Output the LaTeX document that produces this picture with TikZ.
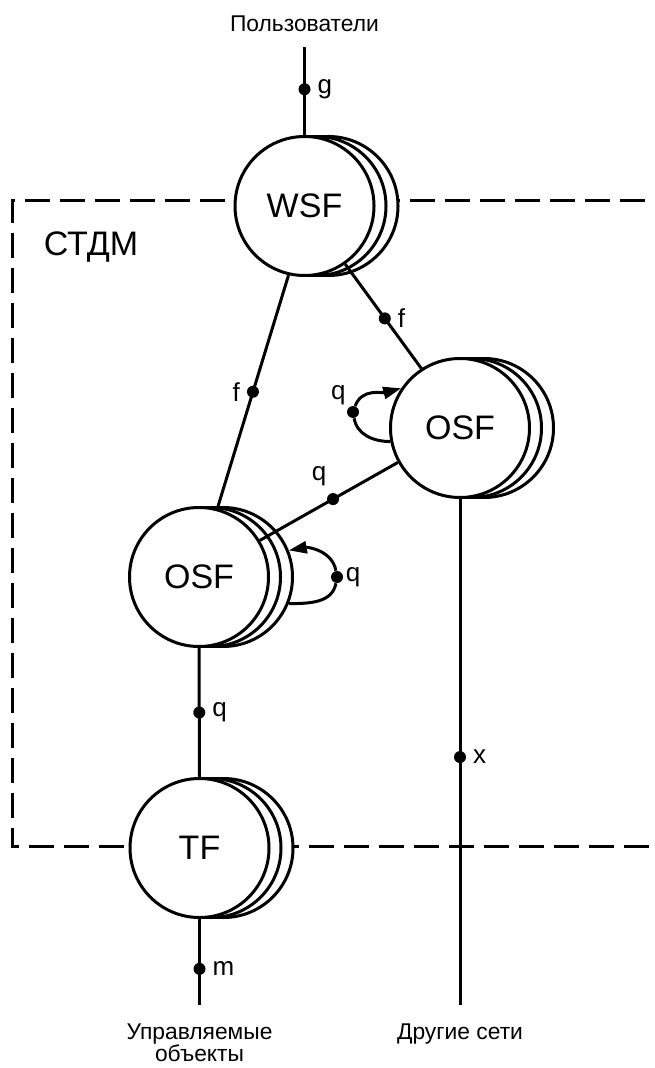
\documentclass[tikz,border=0pt]{standalone}
\usepackage{fontspec}
\setmainfont{Liberation Sans}
\usetikzlibrary{arrows.meta,positioning}

\tikzset{
    fnc/.style={circle, draw, fill=white, line width=1.5pt, minimum size=69.5pt,
        inner sep=0pt, font=\fontsize{17}{20}\selectfont},
    jdot/.style={circle, fill=black, inner sep=0pt, minimum size=6pt},
    lbl/.style={font=\fontsize{11.4}{11}\selectfont},
    link/.style={line width=1.5pt},
    sysbox/.style={line width=1.5pt, dash pattern=on 12.5pt off 5pt},
    tip/.style={-{Triangle[length=9pt, width=6pt]}},
    every label/.style={font=\fontsize{13}{13}\selectfont, inner sep=2pt},
}

\begin{document}
\begin{tikzpicture}[x=0.5pt, y=-0.5pt]
        \useasboundingbox (0,0) rectangle (654,1068);

        % Draw the system frame
        \draw[sysbox] (680,201) -- (12,201) -- (12,846) -- (680,846);
        \node[font=\fontsize{17}{20}\selectfont] (stdm) at (91,247) {СТДМ};

        % Draw the function blocks, two shadow circles behind each
        \foreach \nm/\x/\y/\txt in {wsf/304.5/206/WSF, osfr/460/428/OSF, osfl/199/577/OSF, tf/199.5/848/TF} {
            \node[fnc] (\nm2) at (\x+24,\y) {};
            \node[fnc] (\nm1) at (\x+12,\y) {};
            \node[fnc] (\nm) at (\x,\y) {\txt};
        };

        % Open ends and outside labels
        \coordinate (gtop) at (304.5,47);
        \coordinate (mend) at (199.5,1005);
        \coordinate (xend) at (460,1005);
        \node[lbl, above=4pt of gtop] (users) {Пользователи};
        \node[lbl, below=6pt of mend, align=center] (objs) {Управляемые\\объекты};
        \node[lbl, below=6pt of xend] (nets) {Другие сети};

        % Connectors with reference points
        \draw[link] (gtop) -- node[jdot, pos=0.48, label=right:g] (dg) {} (wsf.north);
        \draw[link] (wsf.257) -- node[jdot, label=left:f] (df1) {} (osfl.75);
        \draw[link] (wsf.305) -- node[jdot, pos=0.52, label=right:f] (df2) {} (osfr.123);
        \draw[link] (osfr.209) -- node[jdot, pos=0.47, label=100:q] (dq1) {} (osfl.31);
        \draw[link] (osfl.south) -- node[jdot, label=right:q] (dq2) {} (tf.north);
        \draw[link] (tf.south) -- node[jdot, pos=0.58, label=right:m] (dm) {} (mend);
        \draw[link] (osfr.south) -- node[jdot, pos=0.51, label=right:x] (dx) {} (xend);

        % Self loops
        \node[jdot, label={[label distance=-1pt]135:q}] (dq3) at (353,412) {};
        \draw[link, tip] (dq3) to[out=70, in=195] (osfr.146);
        \draw[link] (dq3) to[out=-80, in=180] (osfr.191);
        \node[jdot, label={[label distance=-1pt]right:q}] (dq4) at (337,577) {};
        \draw[link, tip] (dq4) to[out=100, in=10] (osfl2.22);
        \draw[link] (dq4) to[out=-100, in=0] (osfl2.-22);
    \end{tikzpicture}
\end{document}
